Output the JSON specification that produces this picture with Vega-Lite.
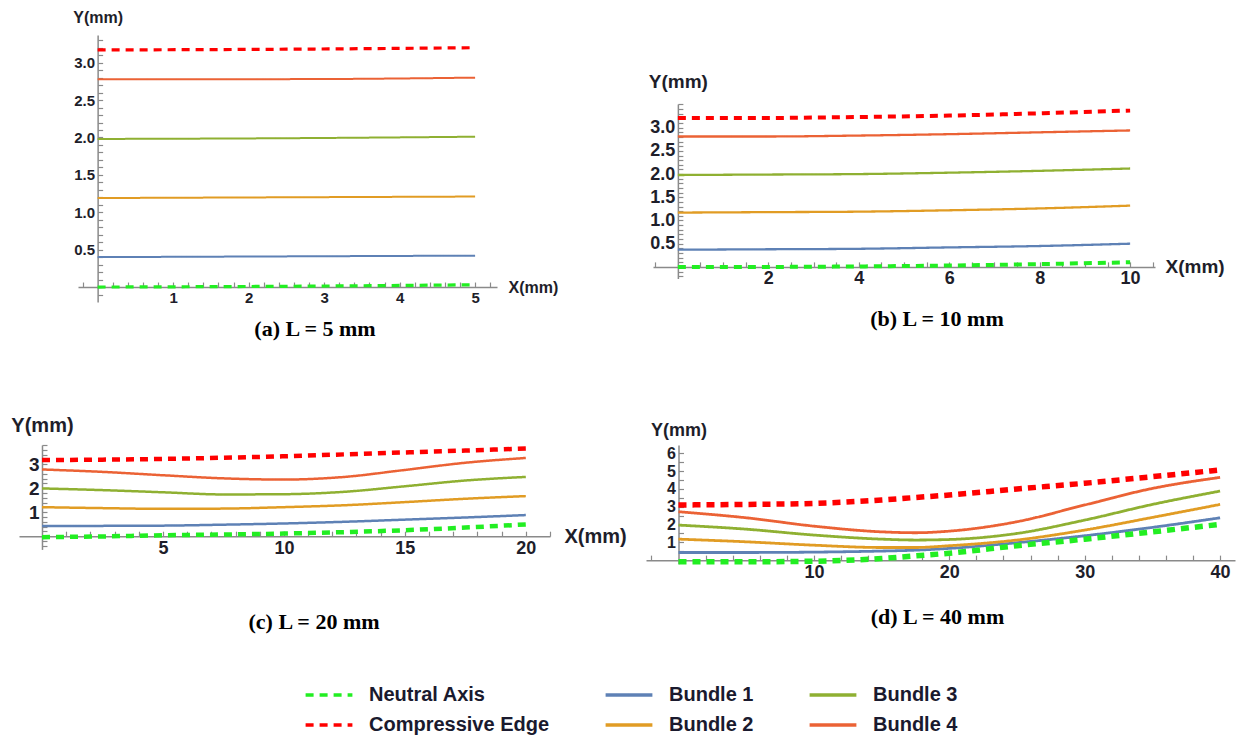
{
  "$schema": "https://vega.github.io/schema/vega-lite/v6.json",
  "background": "white",
  "padding": {"left": 10, "top": 9, "right": 5, "bottom": 2},
  "spacing": 74,
  "datasets": {
    "pa": [
      {"x": 0, "y": 0, "series": "Neutral Axis"}, {"x": 2.5, "y": 0.01, "series": "Neutral Axis"}, {"x": 5, "y": 0.03, "series": "Neutral Axis"},
      {"x": 0, "y": 3.17, "series": "Compressive Edge"}, {"x": 2.5, "y": 3.18, "series": "Compressive Edge"}, {"x": 5, "y": 3.2, "series": "Compressive Edge"},
      {"x": 0, "y": 0.4, "series": "Bundle 1"}, {"x": 2.5, "y": 0.41, "series": "Bundle 1"}, {"x": 5, "y": 0.42, "series": "Bundle 1"},
      {"x": 0, "y": 1.19, "series": "Bundle 2"}, {"x": 2.5, "y": 1.2, "series": "Bundle 2"}, {"x": 5, "y": 1.21, "series": "Bundle 2"},
      {"x": 0, "y": 1.98, "series": "Bundle 3"}, {"x": 2.5, "y": 1.99, "series": "Bundle 3"}, {"x": 5, "y": 2.01, "series": "Bundle 3"},
      {"x": 0, "y": 2.78, "series": "Bundle 4"}, {"x": 2.5, "y": 2.78, "series": "Bundle 4"}, {"x": 5, "y": 2.8, "series": "Bundle 4"}
    ],
    "pb": [
      {"x": 0, "y": 0, "series": "Neutral Axis"}, {"x": 2, "y": 0, "series": "Neutral Axis"}, {"x": 4, "y": 0.01, "series": "Neutral Axis"}, {"x": 6, "y": 0.03, "series": "Neutral Axis"}, {"x": 8, "y": 0.06, "series": "Neutral Axis"}, {"x": 10, "y": 0.1, "series": "Neutral Axis"},
      {"x": 0, "y": 3.21, "series": "Compressive Edge"}, {"x": 2, "y": 3.21, "series": "Compressive Edge"}, {"x": 4, "y": 3.23, "series": "Compressive Edge"}, {"x": 6, "y": 3.26, "series": "Compressive Edge"}, {"x": 8, "y": 3.31, "series": "Compressive Edge"}, {"x": 10, "y": 3.37, "series": "Compressive Edge"},
      {"x": 0, "y": 0.37, "series": "Bundle 1"}, {"x": 2, "y": 0.38, "series": "Bundle 1"}, {"x": 4, "y": 0.39, "series": "Bundle 1"}, {"x": 6, "y": 0.42, "series": "Bundle 1"}, {"x": 8, "y": 0.45, "series": "Bundle 1"}, {"x": 10, "y": 0.5, "series": "Bundle 1"},
      {"x": 0, "y": 1.17, "series": "Bundle 2"}, {"x": 2, "y": 1.18, "series": "Bundle 2"}, {"x": 4, "y": 1.19, "series": "Bundle 2"}, {"x": 6, "y": 1.22, "series": "Bundle 2"}, {"x": 8, "y": 1.26, "series": "Bundle 2"}, {"x": 10, "y": 1.32, "series": "Bundle 2"},
      {"x": 0, "y": 1.98, "series": "Bundle 3"}, {"x": 2, "y": 1.99, "series": "Bundle 3"}, {"x": 4, "y": 2.0, "series": "Bundle 3"}, {"x": 6, "y": 2.03, "series": "Bundle 3"}, {"x": 8, "y": 2.07, "series": "Bundle 3"}, {"x": 10, "y": 2.12, "series": "Bundle 3"},
      {"x": 0, "y": 2.81, "series": "Bundle 4"}, {"x": 2, "y": 2.81, "series": "Bundle 4"}, {"x": 4, "y": 2.83, "series": "Bundle 4"}, {"x": 6, "y": 2.86, "series": "Bundle 4"}, {"x": 8, "y": 2.9, "series": "Bundle 4"}, {"x": 10, "y": 2.94, "series": "Bundle 4"}
    ],
    "pc": [
      {"x": 0, "y": -0.04, "series": "Neutral Axis"}, {"x": 2.5, "y": -0.01, "series": "Neutral Axis"}, {"x": 5, "y": 0.04, "series": "Neutral Axis"}, {"x": 7.5, "y": 0.07, "series": "Neutral Axis"}, {"x": 10, "y": 0.11, "series": "Neutral Axis"}, {"x": 12.5, "y": 0.17, "series": "Neutral Axis"}, {"x": 15, "y": 0.25, "series": "Neutral Axis"}, {"x": 17.5, "y": 0.36, "series": "Neutral Axis"}, {"x": 20, "y": 0.49, "series": "Neutral Axis"},
      {"x": 0, "y": 3.17, "series": "Compressive Edge"}, {"x": 2.5, "y": 3.19, "series": "Compressive Edge"}, {"x": 5, "y": 3.22, "series": "Compressive Edge"}, {"x": 7.5, "y": 3.27, "series": "Compressive Edge"}, {"x": 10, "y": 3.33, "series": "Compressive Edge"}, {"x": 12.5, "y": 3.41, "series": "Compressive Edge"}, {"x": 15, "y": 3.49, "series": "Compressive Edge"}, {"x": 17.5, "y": 3.57, "series": "Compressive Edge"}, {"x": 20, "y": 3.65, "series": "Compressive Edge"},
      {"x": 0, "y": 0.42, "series": "Bundle 1"}, {"x": 2.5, "y": 0.43, "series": "Bundle 1"}, {"x": 5, "y": 0.44, "series": "Bundle 1"}, {"x": 7.5, "y": 0.48, "series": "Bundle 1"}, {"x": 10, "y": 0.53, "series": "Bundle 1"}, {"x": 12.5, "y": 0.6, "series": "Bundle 1"}, {"x": 15, "y": 0.69, "series": "Bundle 1"}, {"x": 17.5, "y": 0.78, "series": "Bundle 1"}, {"x": 20, "y": 0.88, "series": "Bundle 1"},
      {"x": 0, "y": 1.21, "series": "Bundle 2"}, {"x": 2.5, "y": 1.17, "series": "Bundle 2"}, {"x": 5, "y": 1.14, "series": "Bundle 2"}, {"x": 7.5, "y": 1.15, "series": "Bundle 2"}, {"x": 10, "y": 1.21, "series": "Bundle 2"}, {"x": 12.5, "y": 1.29, "series": "Bundle 2"}, {"x": 15, "y": 1.42, "series": "Bundle 2"}, {"x": 17.5, "y": 1.56, "series": "Bundle 2"}, {"x": 20, "y": 1.67, "series": "Bundle 2"},
      {"x": 0, "y": 1.99, "series": "Bundle 3"}, {"x": 2.5, "y": 1.92, "series": "Bundle 3"}, {"x": 5, "y": 1.83, "series": "Bundle 3"}, {"x": 7.5, "y": 1.74, "series": "Bundle 3"}, {"x": 10, "y": 1.75, "series": "Bundle 3"}, {"x": 12.5, "y": 1.85, "series": "Bundle 3"}, {"x": 15, "y": 2.08, "series": "Bundle 3"}, {"x": 17.5, "y": 2.32, "series": "Bundle 3"}, {"x": 20, "y": 2.47, "series": "Bundle 3"},
      {"x": 0, "y": 2.78, "series": "Bundle 4"}, {"x": 2.5, "y": 2.68, "series": "Bundle 4"}, {"x": 5, "y": 2.54, "series": "Bundle 4"}, {"x": 7.5, "y": 2.41, "series": "Bundle 4"}, {"x": 10, "y": 2.36, "series": "Bundle 4"}, {"x": 12.5, "y": 2.47, "series": "Bundle 4"}, {"x": 15, "y": 2.76, "series": "Bundle 4"}, {"x": 17.5, "y": 3.06, "series": "Bundle 4"}, {"x": 20, "y": 3.26, "series": "Bundle 4"}
    ],
    "pd": [
      {"x": 0, "y": -0.09, "series": "Neutral Axis"}, {"x": 5, "y": -0.09, "series": "Neutral Axis"}, {"x": 10, "y": -0.06, "series": "Neutral Axis"}, {"x": 15, "y": 0.09, "series": "Neutral Axis"}, {"x": 17.5, "y": 0.24, "series": "Neutral Axis"}, {"x": 20, "y": 0.39, "series": "Neutral Axis"}, {"x": 25, "y": 0.81, "series": "Neutral Axis"}, {"x": 30, "y": 1.18, "series": "Neutral Axis"}, {"x": 35, "y": 1.59, "series": "Neutral Axis"}, {"x": 40, "y": 2.01, "series": "Neutral Axis"},
      {"x": 0, "y": 3.1, "series": "Compressive Edge"}, {"x": 5, "y": 3.13, "series": "Compressive Edge"}, {"x": 10, "y": 3.19, "series": "Compressive Edge"}, {"x": 15, "y": 3.38, "series": "Compressive Edge"}, {"x": 17.5, "y": 3.52, "series": "Compressive Edge"}, {"x": 20, "y": 3.66, "series": "Compressive Edge"}, {"x": 25, "y": 4.0, "series": "Compressive Edge"}, {"x": 30, "y": 4.32, "series": "Compressive Edge"}, {"x": 35, "y": 4.69, "series": "Compressive Edge"}, {"x": 40, "y": 5.07, "series": "Compressive Edge"},
      {"x": 0, "y": 0.43, "series": "Bundle 1"}, {"x": 5, "y": 0.43, "series": "Bundle 1"}, {"x": 10, "y": 0.45, "series": "Bundle 1"}, {"x": 15, "y": 0.51, "series": "Bundle 1"}, {"x": 17.5, "y": 0.56, "series": "Bundle 1"}, {"x": 20, "y": 0.66, "series": "Bundle 1"}, {"x": 25, "y": 0.98, "series": "Bundle 1"}, {"x": 30, "y": 1.37, "series": "Bundle 1"}, {"x": 35, "y": 1.84, "series": "Bundle 1"}, {"x": 40, "y": 2.38, "series": "Bundle 1"},
      {"x": 0, "y": 1.18, "series": "Bundle 2"}, {"x": 5, "y": 1.03, "series": "Bundle 2"}, {"x": 10, "y": 0.84, "series": "Bundle 2"}, {"x": 15, "y": 0.71, "series": "Bundle 2"}, {"x": 17.5, "y": 0.71, "series": "Bundle 2"}, {"x": 20, "y": 0.81, "series": "Bundle 2"}, {"x": 25, "y": 1.13, "series": "Bundle 2"}, {"x": 30, "y": 1.69, "series": "Bundle 2"}, {"x": 35, "y": 2.4, "series": "Bundle 2"}, {"x": 40, "y": 3.13, "series": "Bundle 2"},
      {"x": 0, "y": 1.97, "series": "Bundle 3"}, {"x": 5, "y": 1.74, "series": "Bundle 3"}, {"x": 10, "y": 1.41, "series": "Bundle 3"}, {"x": 15, "y": 1.18, "series": "Bundle 3"}, {"x": 17.5, "y": 1.13, "series": "Bundle 3"}, {"x": 20, "y": 1.16, "series": "Bundle 3"}, {"x": 25, "y": 1.5, "series": "Bundle 3"}, {"x": 30, "y": 2.25, "series": "Bundle 3"}, {"x": 35, "y": 3.13, "series": "Bundle 3"}, {"x": 40, "y": 3.88, "series": "Bundle 3"},
      {"x": 0, "y": 2.72, "series": "Bundle 4"}, {"x": 5, "y": 2.38, "series": "Bundle 4"}, {"x": 10, "y": 1.91, "series": "Bundle 4"}, {"x": 15, "y": 1.59, "series": "Bundle 4"}, {"x": 17.5, "y": 1.54, "series": "Bundle 4"}, {"x": 20, "y": 1.63, "series": "Bundle 4"}, {"x": 25, "y": 2.16, "series": "Bundle 4"}, {"x": 30, "y": 3.1, "series": "Bundle 4"}, {"x": 35, "y": 4.03, "series": "Bundle 4"}, {"x": 40, "y": 4.65, "series": "Bundle 4"}
    ]
  },
  "config": {
    "view": {"stroke": null},
    "axis": {
      "grid": false,
      "domainColor": "#8a8a8a",
      "domainWidth": 1.5,
      "tickColor": "#8a8a8a",
      "tickWidth": 1.2,
      "tickSize": -5,
      "labelFont": "Liberation Sans",
      "labelFontWeight": "bold",
      "labelColor": "#1e1e2a",
      "labelPadding": 8,
      "labelOverlap": false,
      "labelFlush": false,
      "titleFont": "Liberation Sans",
      "titleFontWeight": "bold",
      "titleColor": "#1e1e2a",
      "titleAngle": 0
    },
    "legend": {
      "orient": "none",
      "legendX": 290,
      "legendY": 640,
      "columns": 3,
      "symbolType": "M-1.3,0H1.3",
      "symbolSize": 1296,
      "symbolStrokeWidth": 3.5,
      "labelFont": "Liberation Sans",
      "labelFontSize": 20,
      "labelFontWeight": "bold",
      "labelColor": "#1a1a2e",
      "labelOffset": 20,
      "labelLimit": 400,
      "rowPadding": 0,
      "columnPadding": 48,
      "padding": 0
    }
  },
  "vconcat": [
    {
      "spacing": 0,
      "hconcat": [
        {"width": 52.9, "height": 1, "data": {"values": []}, "mark": "point"},
        {
          "width": 419,
          "height": 267,
          "data": {"name": "pa"},
          "title": {"text": "(a) L = 5 mm", "orient": "bottom", "frame": "group", "anchor": "middle", "offset": 14, "dx": 27.5, "font": "Liberation Serif", "fontSize": 22, "fontWeight": "bold", "color": "black"},
          "encoding": {
            "x": {"field": "x", "type": "quantitative", "scale": {"domain": [-0.26, 5.29], "nice": false, "zero": false},
              "axis": {"orient": "bottom", "offset": -14.96,
                "values": [-0.2, 0.2, 0.4, 0.6, 0.8, 1, 1.2, 1.4, 1.6, 1.8, 2, 2.2, 2.4, 2.6, 2.8, 3, 3.2, 3.4, 3.6, 3.8, 4, 4.2, 4.4, 4.6, 4.8, 5, 5.2],
                "labelExpr": "datum.value == round(datum.value) ? format(datum.value, 'd') : ''",
                "labelFontSize": 15, "title": "X(mm)", "titleX": 430, "titleY": 0, "titleAlign": "left", "titleBaseline": "middle", "titleFontSize": 16}},
            "y": {"field": "y", "type": "quantitative", "scale": {"domain": [-0.2, 3.37], "nice": false, "zero": false},
              "axis": {"orient": "left", "offset": -19.63,
                "values": [-0.1, 0.1, 0.2, 0.3, 0.4, 0.5, 0.6, 0.7, 0.8, 0.9, 1, 1.1, 1.2, 1.3, 1.4, 1.5, 1.6, 1.7, 1.8, 1.9, 2, 2.1, 2.2, 2.3, 2.4, 2.5, 2.6, 2.7, 2.8, 2.9, 3, 3.1, 3.2, 3.3],
                "labelExpr": "datum.value * 2 == round(datum.value * 2) ? format(datum.value, '.1f') : ''",
                "labelFontSize": 15, "title": "Y(mm)", "titleX": 0, "titleY": -18, "titleAlign": "center", "titleBaseline": "middle", "titleFontSize": 16}},
            "color": {"field": "series", "type": "nominal",
              "scale": {"domain": ["Neutral Axis", "Compressive Edge", "Bundle 1", "Bundle 2", "Bundle 3", "Bundle 4"], "range": ["#22ee22", "#ff0000", "#5e81b5", "#e19c24", "#8fb032", "#eb6235"]},
              "legend": {"title": null}},
            "strokeDash": {"field": "series", "type": "nominal",
              "scale": {"domain": ["Neutral Axis", "Compressive Edge", "Bundle 1", "Bundle 2", "Bundle 3", "Bundle 4"], "range": [[8, 6], [8, 6], [1, 0], [1, 0], [1, 0], [1, 0]]},
              "legend": {"title": null}}
          },
          "layer": [
            {"transform": [{"filter": {"field": "series", "oneOf": ["Bundle 1", "Bundle 2", "Bundle 3", "Bundle 4"]}}], "mark": {"type": "line", "strokeWidth": 2, "interpolate": "monotone"}},
            {"transform": [{"filter": {"field": "series", "oneOf": ["Neutral Axis", "Compressive Edge"]}}], "mark": {"type": "line", "strokeWidth": 3.2, "interpolate": "monotone"}}
          ]
        },
        {"width": 89.2, "height": 1, "data": {"values": []}, "mark": "point"},
        {
          "spacing": 0,
          "vconcat": [
            {"width": 1, "height": 37, "data": {"values": []}, "mark": "point"},
            {
              "width": 502,
              "height": 174.5,
              "data": {"name": "pb"},
              "title": {"text": "(b) L = 10 mm", "orient": "bottom", "frame": "group", "anchor": "middle", "offset": 21.5, "dx": 33, "font": "Liberation Serif", "fontSize": 22, "fontWeight": "bold", "color": "black"},
              "encoding": {
                "x": {"field": "x", "type": "quantitative", "scale": {"domain": [-0.55, 10.55], "nice": false, "zero": false},
                  "axis": {"orient": "bottom", "offset": -11.6,
                    "values": [-0.5, 0.5, 1, 1.5, 2, 2.5, 3, 3.5, 4, 4.5, 5, 5.5, 6, 6.5, 7, 7.5, 8, 8.5, 9, 9.5, 10, 10.5],
                    "labelExpr": "datum.value % 2 == 0 ? format(datum.value, 'd') : ''",
                    "labelFontSize": 18, "title": "X(mm)", "titleX": 512, "titleY": 0, "titleAlign": "left", "titleBaseline": "middle", "titleFontSize": 19}},
                "y": {"field": "y", "type": "quantitative", "scale": {"domain": [-0.25, 3.51], "nice": false, "zero": false},
                  "axis": {"orient": "left", "offset": -24.87,
                    "values": [-0.2, -0.1, 0.1, 0.2, 0.3, 0.4, 0.5, 0.6, 0.7, 0.8, 0.9, 1, 1.1, 1.2, 1.3, 1.4, 1.5, 1.6, 1.7, 1.8, 1.9, 2, 2.1, 2.2, 2.3, 2.4, 2.5, 2.6, 2.7, 2.8, 2.9, 3, 3.1, 3.2, 3.3, 3.4, 3.5],
                    "labelExpr": "datum.value * 2 == round(datum.value * 2) && datum.value < 3.2 ? format(datum.value, '.1f') : ''",
                    "labelFontSize": 18, "title": "Y(mm)", "titleX": 0, "titleY": -23, "titleAlign": "center", "titleBaseline": "middle", "titleFontSize": 19}},
                "color": {"field": "series", "type": "nominal",
                  "scale": {"domain": ["Neutral Axis", "Compressive Edge", "Bundle 1", "Bundle 2", "Bundle 3", "Bundle 4"], "range": ["#22ee22", "#ff0000", "#5e81b5", "#e19c24", "#8fb032", "#eb6235"]},
                  "legend": {"title": null}},
                "strokeDash": {"field": "series", "type": "nominal",
                  "scale": {"domain": ["Neutral Axis", "Compressive Edge", "Bundle 1", "Bundle 2", "Bundle 3", "Bundle 4"], "range": [[8, 6], [8, 6], [1, 0], [1, 0], [1, 0], [1, 0]]},
                  "legend": {"title": null}}
              },
              "layer": [
                {"transform": [{"filter": {"field": "series", "oneOf": ["Bundle 1", "Bundle 2", "Bundle 3", "Bundle 4"]}}], "mark": {"type": "line", "strokeWidth": 2.3, "interpolate": "monotone"}},
                {"transform": [{"filter": {"field": "series", "oneOf": ["Neutral Axis", "Compressive Edge"]}}], "mark": {"type": "line", "strokeWidth": 4, "interpolate": "monotone"}}
              ]
            }
          ]
        }
      ]
    },
    {
      "spacing": 0,
      "hconcat": [
        {
          "width": 531,
          "height": 104.4,
          "data": {"name": "pc"},
          "title": {"text": "(c) L = 20 mm", "orient": "bottom", "frame": "group", "anchor": "middle", "offset": 55, "dx": 29.5, "font": "Liberation Serif", "fontSize": 22, "fontWeight": "bold", "color": "black"},
          "encoding": {
            "x": {"field": "x", "type": "quantitative", "scale": {"domain": [-0.95, 21], "nice": false, "zero": false},
              "axis": {"orient": "bottom", "offset": -13.2,
                "values": [1, 2, 3, 4, 5, 6, 7, 8, 9, 10, 11, 12, 13, 14, 15, 16, 17, 18, 19, 20, 21],
                "labelExpr": "datum.value % 5 == 0 ? format(datum.value, 'd') : ''",
                "labelFontSize": 18, "title": "X(mm)", "titleX": 545, "titleY": 0, "titleAlign": "left", "titleBaseline": "middle", "titleFontSize": 20}},
            "y": {"field": "y", "type": "quantitative", "scale": {"domain": [-0.55, 3.8], "nice": false, "zero": false},
              "axis": {"orient": "left", "offset": -22.98,
                "values": [-0.4, -0.2, 0.2, 0.4, 0.6, 0.8, 1, 1.2, 1.4, 1.6, 1.8, 2, 2.2, 2.4, 2.6, 2.8, 3, 3.2, 3.4, 3.6, 3.8],
                "labelExpr": "datum.value == round(datum.value) ? format(datum.value, 'd') : ''",
                "labelFontSize": 19, "title": "Y(mm)", "titleX": 0, "titleY": -20, "titleAlign": "center", "titleBaseline": "middle", "titleFontSize": 20}},
            "color": {"field": "series", "type": "nominal",
              "scale": {"domain": ["Neutral Axis", "Compressive Edge", "Bundle 1", "Bundle 2", "Bundle 3", "Bundle 4"], "range": ["#22ee22", "#ff0000", "#5e81b5", "#e19c24", "#8fb032", "#eb6235"]},
              "legend": {"title": null}},
            "strokeDash": {"field": "series", "type": "nominal",
              "scale": {"domain": ["Neutral Axis", "Compressive Edge", "Bundle 1", "Bundle 2", "Bundle 3", "Bundle 4"], "range": [[8, 6], [8, 6], [1, 0], [1, 0], [1, 0], [1, 0]]},
              "legend": {"title": null}}
          },
          "layer": [
            {"transform": [{"filter": {"field": "series", "oneOf": ["Bundle 1", "Bundle 2", "Bundle 3", "Bundle 4"]}}], "mark": {"type": "line", "strokeWidth": 2.5, "interpolate": "monotone"}},
            {"transform": [{"filter": {"field": "series", "oneOf": ["Neutral Axis", "Compressive Edge"]}}], "mark": {"type": "line", "strokeWidth": 4.5, "interpolate": "monotone"}}
          ]
        },
        {"width": 18.5, "height": 1, "data": {"values": []}, "mark": "point"},
        {
          "width": 589,
          "height": 118.7,
          "data": {"name": "pd"},
          "title": {"text": "(d) L = 40 mm", "orient": "bottom", "frame": "group", "anchor": "middle", "offset": 26, "dx": -3, "font": "Liberation Serif", "fontSize": 22, "fontWeight": "bold", "color": "black"},
          "encoding": {
            "x": {"field": "x", "type": "quantitative", "scale": {"domain": [-2.4, 41.1], "nice": false, "zero": false},
              "axis": {"orient": "bottom", "offset": -3.56,
                "values": [-2, 2, 4, 6, 8, 10, 12, 14, 16, 18, 20, 22, 24, 26, 28, 30, 32, 34, 36, 38, 40],
                "labelExpr": "datum.value % 10 == 0 ? format(datum.value, 'd') : ''",
                "labelFontSize": 18, "title": null}},
            "y": {"field": "y", "type": "quantitative", "scale": {"domain": [-0.2, 6.47], "nice": false, "zero": false},
              "axis": {"orient": "left", "offset": -32.5,
                "values": [0.5, 1, 1.5, 2, 2.5, 3, 3.5, 4, 4.5, 5, 5.5, 6],
                "labelExpr": "datum.value == round(datum.value) ? format(datum.value, 'd') : ''",
                "labelFontSize": 16, "title": "Y(mm)", "titleX": 0, "titleY": -15, "titleAlign": "center", "titleBaseline": "middle", "titleFontSize": 18}},
            "color": {"field": "series", "type": "nominal",
              "scale": {"domain": ["Neutral Axis", "Compressive Edge", "Bundle 1", "Bundle 2", "Bundle 3", "Bundle 4"], "range": ["#22ee22", "#ff0000", "#5e81b5", "#e19c24", "#8fb032", "#eb6235"]},
              "legend": {"title": null}},
            "strokeDash": {"field": "series", "type": "nominal",
              "scale": {"domain": ["Neutral Axis", "Compressive Edge", "Bundle 1", "Bundle 2", "Bundle 3", "Bundle 4"], "range": [[8, 6], [8, 6], [1, 0], [1, 0], [1, 0], [1, 0]]},
              "legend": {"title": null}}
          },
          "layer": [
            {"transform": [{"filter": {"field": "series", "oneOf": ["Bundle 1", "Bundle 2", "Bundle 3", "Bundle 4"]}}], "mark": {"type": "line", "strokeWidth": 2.8, "interpolate": "monotone"}},
            {"transform": [{"filter": {"field": "series", "oneOf": ["Neutral Axis", "Compressive Edge"]}}], "mark": {"type": "line", "strokeWidth": 5.5, "interpolate": "monotone"}}
          ]
        }
      ]
    }
  ]
}
